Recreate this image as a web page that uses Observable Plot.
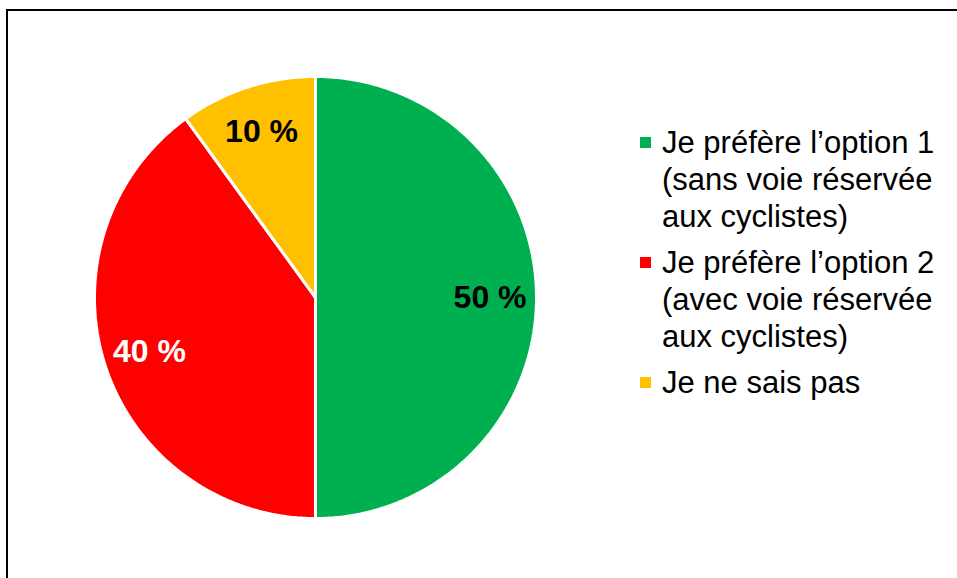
<!DOCTYPE html>
<html>
<head>
<meta charset="utf-8">
<script src="https://cdn.jsdelivr.net/npm/d3@7"></script>
<script src="https://cdn.jsdelivr.net/npm/@observablehq/plot@0.6"></script>
<style>
  html, body { margin: 0; padding: 0; background: #fff; width: 957px; height: 578px; overflow: hidden; }
  #wrap { position: relative; width: 957px; height: 578px; font-family: "Liberation Sans", Arial, sans-serif; }
  #border { position: absolute; left: 6px; top: 9px; width: 1000px; height: 700px; border-left: 2px solid #000; border-top: 2px solid #000; box-sizing: border-box; }
  #chart { position: absolute; left: 0; top: 0; }
  #legend { position: absolute; left: 640px; top: 124px; }
  .item { display: flex; align-items: flex-start; margin-bottom: 9px; }
  .sw { width: 11px; height: 11px; margin-top: 13px; margin-right: 11px; flex: none; }
  .lbl { font-size: 31px; line-height: 37px; color: #000; white-space: pre; }
</style>
</head>
<body>
<div id="wrap">
  <div id="border"></div>
  <div id="chart"></div>
  <div id="legend"></div>
</div>
<script>
const categories = ["Je préfère l’option 1\n(sans voie réservée\naux cyclistes)", "Je préfère l’option 2\n(avec voie réservée\naux cyclistes)", "Je ne sais pas"];
const values = [50, 40, 10];
const labels = ["50 %", "40 %", "10 %"];
const colors = ["#00B050", "#FF0000", "#FFC000"];
const labelColors = ["#000000", "#FFFFFF", "#000000"];

const data = categories.map((c, i) => ({key: c, value: values[i], label: labels[i], color: colors[i], lc: labelColors[i]}));
const arcs = d3.pie().sort(null).value(d => d.value)(data);

// polygon points for each slice (angle 0 = top, clockwise)
const pts = [];
for (const a of arcs) {
  const k = a.data.key;
  pts.push({k, x: 0, y: 0});
  const n = Math.max(2, Math.ceil((a.endAngle - a.startAngle) / 0.01));
  for (let j = 0; j <= n; j++) {
    const t = a.startAngle + (a.endAngle - a.startAngle) * j / n;
    pts.push({k, x: Math.sin(t), y: Math.cos(t)});
  }
  pts.push({k, x: 0, y: 0});
}
const labelPts = arcs.map(a => {
  const t = (a.startAngle + a.endAngle) / 2;
  const r = 0.79;
  return {x: r * Math.sin(t), y: r * Math.cos(t), label: a.data.label, lc: a.data.lc};
});

const plot = Plot.plot({
  width: 957,
  height: 578,
  margin: 0,
  x: {domain: [-1, 1], range: [94, 536], axis: null},
  y: {domain: [-1, 1], range: [518, 76], axis: null},
  color: {domain: categories, range: colors},
  style: {background: "transparent", fontFamily: "Liberation Sans, Arial, sans-serif"},
  marks: [
    Plot.line(pts, {x: "x", y: "y", z: "k", fill: "k", stroke: "#fff", strokeWidth: 3, strokeLinejoin: "miter", curve: "linear"}),
    Plot.text(labelPts, {x: "x", y: "y", text: "label", fill: "lc", fontSize: 32, fontWeight: "bold"})
  ]
});
document.getElementById("chart").appendChild(plot);

const legend = document.getElementById("legend");
data.forEach(d => {
  const it = document.createElement("div");
  it.className = "item";
  const sw = document.createElement("div");
  sw.className = "sw";
  sw.style.background = d.color;
  const lb = document.createElement("div");
  lb.className = "lbl";
  lb.textContent = d.key;
  it.appendChild(sw); it.appendChild(lb);
  legend.appendChild(it);
});
</script>
</body>
</html>
